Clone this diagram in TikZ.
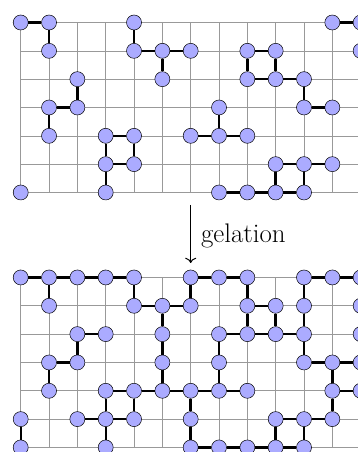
\documentclass[tikz,border=0pt]{standalone}
\usetikzlibrary{arrows.meta}
\begin{document}
\begin{tikzpicture}[x=1cm,y=1cm,
  site/.style={circle,draw=black,fill=blue!33,minimum size=0.53cm,inner sep=0pt,line width=0.5pt},
  bond/.style={line width=2.4pt},
  gridline/.style={draw=black!40,line width=0.6pt},
  gelarrow/.style={line width=1pt,-{To[scale=1.4]}}]
\path[use as bounding box] (-0.731,0.794) rectangle (11.905,-15.161);
\clip (-0.731,0.794) rectangle (11.905,-15.161);
% grids
\draw[gridline] (0,-6) grid (12.6,0);
\draw[gridline] (0,-15) grid (12.6,-9);
% top lattice sites
\foreach \r/\cols in {0/{0,1,4,11,12},1/{1,4,5,6,8,9,12},2/{2,5,8,9,10},3/{1,2,7,10,11},4/{1,3,4,6,7,8},5/{3,4,9,10,11},6/{0,3,7,8,9,10}}
  \foreach \c in \cols \node[site] (t\c-\r) at (\c,-\r) {};
% bottom lattice sites
\foreach \r/\cols in {0/{0,1,2,3,4,6,7,8,10,11,12},1/{1,4,5,6,8,9,10,12},2/{2,3,5,7,8,9,10,12},3/{1,2,5,7,10,11,12},4/{1,3,4,5,6,7,8,11,12},5/{0,2,3,4,6,9,10,11},6/{0,3,6,7,8,9,10}}
  \foreach \c in \cols \node[site] (b\c-\r) at (\c,{-\r-9}) {};
% top bonds
\foreach \a/\b in {0-0/1-0,1-0/1-1,4-0/4-1,4-1/5-1,5-1/6-1,5-1/5-2,11-0/12-0,
  8-1/9-1,8-1/8-2,9-1/9-2,8-2/9-2,9-2/10-2,10-2/10-3,10-3/11-3,
  2-2/2-3,1-3/2-3,1-3/1-4,7-3/7-4,6-4/7-4,7-4/8-4,
  3-4/4-4,3-4/3-5,4-4/4-5,3-5/4-5,3-5/3-6,
  9-5/10-5,10-5/11-5,9-5/9-6,10-5/10-6,7-6/8-6,8-6/9-6,9-6/10-6}
  \draw[bond] (t\a) -- (t\b);
% bottom bonds
\foreach \a/\b in {0-0/1-0,1-0/2-0,2-0/3-0,3-0/4-0,1-0/1-1,4-0/4-1,4-1/5-1,5-1/6-1,6-0/6-1,
  6-0/7-0,7-0/8-0,8-0/8-1,8-1/9-1,8-1/8-2,9-1/9-2,10-0/11-0,11-0/12-0,10-0/10-1,10-1/10-2,
  2-2/3-2,2-2/2-3,1-3/2-3,1-3/1-4,5-1/5-2,5-2/5-3,5-3/5-4,
  7-2/8-2,8-2/9-2,9-2/10-2,7-2/7-3,7-3/7-4,
  10-2/10-3,10-3/11-3,11-3/12-3,11-3/11-4,11-4/12-4,11-4/11-5,
  3-4/4-4,4-4/5-4,5-4/6-4,6-4/7-4,7-4/8-4,3-4/3-5,4-4/4-5,6-4/6-5,
  2-5/3-5,3-5/4-5,3-5/3-6,0-5/0-6,6-5/6-6,9-5/10-5,10-5/11-5,9-5/9-6,10-5/10-6,
  6-6/7-6,7-6/8-6,8-6/9-6,9-6/10-6}
  \draw[bond] (b\a) -- (b\b);
% gelation arrow
\coordinate (arrS) at (6,-6.44);
\coordinate (arrE) at (6,-8.49);
\draw[gelarrow] (arrS) -- (arrE);
\node[anchor=base west,inner sep=0pt,font=\fontsize{27}{32}\selectfont] (lab) at (6.36,-7.75) {gelation};
\end{tikzpicture}
\end{document}
